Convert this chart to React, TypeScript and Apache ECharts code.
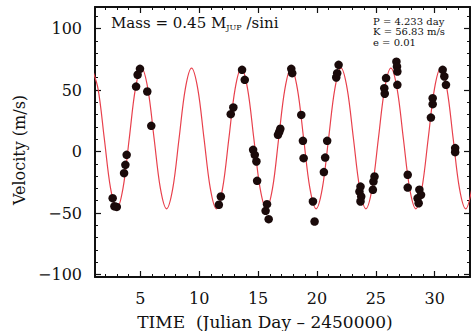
import React, { useEffect, useRef } from 'react';
import * as echarts from 'echarts';

// Axis tick positions
const xMajorTicks = [5, 10, 15, 20, 25, 30];
const xMinorTicks = [2, 3, 4, 6, 7, 8, 9, 11, 12, 13, 14, 16, 17, 18, 19, 21, 22, 23, 24, 26, 27, 28, 29, 31, 32];
const yMajorTicks = [-100, -50, 0, 50, 100];
const yMinorTicks = [-90, -80, -70, -60, -40, -30, -20, -10, 10, 20, 30, 40, 60, 70, 80, 90, 110];

// Observed radial velocities (time in JD - 2450000, velocity in m/s)
const obsTime = [
  2.65, 2.8, 3.0, 3.62, 3.73, 3.84, 4.64, 4.77, 4.97, 5.59, 5.93,
  11.67, 11.84, 12.68, 12.9, 13.64, 13.87,
  14.58, 14.72, 14.86, 14.92, 15.64, 15.76, 15.9, 16.69, 16.8, 16.89,
  17.82, 17.9, 18.67, 18.81, 18.87, 19.66, 19.8,
  20.59, 20.7, 20.87, 21.64, 21.72, 21.84,
  23.61, 23.7, 23.76, 23.7, 24.75, 24.8, 24.89,
  25.72, 25.76, 25.87, 26.75, 26.8, 26.83, 26.83,
  27.71, 27.71, 28.55, 28.64, 28.7, 28.84,
  29.68, 29.83, 29.83, 30.68, 30.82, 30.96, 31.74, 31.74,
];
const obsVel = [
  -37.9, -44.5, -45.0, -17.6, -10.8, -2.7, 52.8, 62.4, 67.2, 48.8, 20.9,
  -43.3, -36.6, 30.4, 35.8, 66.4, 58.3,
  1.4, -2.7, -8.1, -23.8, -48.2, -42.8, -55.0, 13.6, 16.0, 18.5,
  67.2, 63.7, 29.8, 8.7, -5.4, -40.6, -56.9,
  -16.7, -4.9, 8.7, 60.2, 63.7, 70.5,
  -32.5, -28.5, -36.6, -40.6, -31.1, -24.4, -20.3,
  51.5, 47.0, 59.7, 73.0, 69.0, 65.0, 54.2,
  -18.9, -29.3, -38.0, -42.0, -31.0, -35.2,
  27.6, 38.5, 43.4, 66.4, 61.0, 54.2, 2.8, -0.5,
];

// Orbit fit curve at eighth-period steps
const modelTime = [
  0.88, 1.41, 1.94, 2.47, 3.0, 3.53, 4.06, 4.58,
  5.11, 5.64, 6.17, 6.7, 7.23, 7.76, 8.29, 8.82,
  9.35, 9.88, 10.41, 10.94, 11.46, 11.99, 12.52, 13.05,
  13.58, 14.11, 14.64, 15.17, 15.7, 16.23, 16.75, 17.28,
  17.81, 18.34, 18.87, 19.4, 19.93, 20.46, 20.99, 21.52,
  22.05, 22.57, 23.1, 23.63, 24.16, 24.69, 25.22, 25.75,
  26.28, 26.81, 27.34, 27.87, 28.4, 28.92, 29.45, 29.98,
  30.51, 31.04, 31.57, 32.1, 32.63, 33.16, 33.69,
];
const modelVel = [
  67.8, 51.0, 10.6, -29.8, -46.6, -29.8, 10.6, 51.0,
  67.8, 51.0, 10.6, -29.8, -46.6, -29.8, 10.6, 51.0,
  67.8, 51.0, 10.6, -29.8, -46.6, -29.8, 10.6, 51.0,
  67.8, 51.0, 10.6, -29.8, -46.6, -29.8, 10.6, 51.0,
  67.8, 51.0, 10.6, -29.8, -46.6, -29.8, 10.6, 51.0,
  67.8, 51.0, 10.6, -29.8, -46.6, -29.8, 10.6, 51.0,
  67.8, 51.0, 10.6, -29.8, -46.6, -29.8, 10.6, 51.0,
  67.8, 51.0, 10.6, -29.8, -46.6, -29.8, 10.6,
];

const X_MIN = 1.15;
const X_MAX = 33.0;
const Y_MIN = -102;
const Y_MAX = 117.5;

const FONT = 'DejaVu Serif';
const INK = '#111';

function fmt(v: number) {
  return v < 0 ? '\u2212' + Math.abs(v) : String(v);
}

export default function App() {
  const ref = useRef<HTMLDivElement>(null);
  useEffect(() => {
    if (!ref.current) return;
    const chart = echarts.init(ref.current, null, { renderer: 'svg' });
    const axisLine = { show: true, onZero: false, lineStyle: { color: INK, width: 2 } };
    const noLine = { show: false, onZero: false };
    const xBase = { type: 'value', min: X_MIN, max: X_MAX, splitLine: { show: false }, gridIndex: 0 };
    const yBase = { type: 'value', min: Y_MIN, max: Y_MAX, splitLine: { show: false }, gridIndex: 0 };
    const majorTick = (vals: number[]) => ({ show: true, inside: true, length: 6, customValues: vals, lineStyle: { color: INK, width: 1.2 } });
    const minorTick = (vals: number[]) => ({ show: true, inside: true, length: 3, customValues: vals, lineStyle: { color: INK, width: 1 } });
    const option: any = {
      animation: false,
      backgroundColor: '#fff',
      grid: { left: 95, right: 1, top: 7, bottom: 54, containLabel: false },
      xAxis: [
        {
          ...xBase, position: 'bottom', axisLine,
          axisTick: majorTick(xMajorTicks),
          axisLabel: { show: true, customValues: xMajorTicks, margin: 13, fontFamily: FONT, fontSize: 16, color: INK, formatter: fmt },
        },
        { ...xBase, position: 'bottom', axisLine: noLine, axisTick: minorTick(xMinorTicks), axisLabel: { show: false } },
        { ...xBase, position: 'top', axisLine, axisTick: majorTick(xMajorTicks), axisLabel: { show: false } },
        { ...xBase, position: 'top', axisLine: noLine, axisTick: minorTick(xMinorTicks), axisLabel: { show: false } },
      ],
      yAxis: [
        {
          ...yBase, position: 'left', axisLine,
          axisTick: majorTick(yMajorTicks),
          axisLabel: { show: true, customValues: yMajorTicks, margin: 13, fontFamily: FONT, fontSize: 16, color: INK, formatter: fmt },
        },
        { ...yBase, position: 'left', axisLine: noLine, axisTick: minorTick(yMinorTicks), axisLabel: { show: false } },
        { ...yBase, position: 'right', axisLine, axisTick: majorTick(yMajorTicks), axisLabel: { show: false } },
        { ...yBase, position: 'right', axisLine: noLine, axisTick: minorTick(yMinorTicks), axisLabel: { show: false } },
      ],
      series: [
        {
          type: 'line',
          xAxisIndex: 0,
          yAxisIndex: 0,
          data: modelTime.map((t, i) => [t, modelVel[i]]),
          smooth: 0.33,
          showSymbol: false,
          clip: true,
          lineStyle: { color: '#e8404c', width: 1.2 },
          z: 2,
        },
        {
          type: 'scatter',
          xAxisIndex: 0,
          yAxisIndex: 0,
          data: obsTime.map((t, i) => [t, obsVel[i]]),
          symbol: 'circle',
          symbolSize: 8.5,
          itemStyle: { color: '#1a0a0a', opacity: 1 },
          z: 3,
        },
      ],
      graphic: [
        {
          type: 'text',
          left: 111,
          top: 15,
          style: {
            text: '{a|Mass = 0.45 M}{b|JUP}{a| /sini}',
            rich: {
              a: { fontFamily: FONT, fontSize: 15, lineHeight: 18, fill: INK, verticalAlign: 'middle' },
              b: { fontFamily: FONT, fontSize: 8, lineHeight: 8, fill: INK, verticalAlign: 'bottom' },
            },
          },
          z: 10,
        },
        {
          type: 'text',
          left: 373,
          top: 16,
          style: {
            text: 'P = 4.233 day\nK = 56.83 m/s\ne = 0.01',
            fontFamily: FONT,
            fontSize: 10,
            lineHeight: 10.5,
            fill: INK,
          },
          z: 10,
        },
        {
          type: 'text',
          x: 19,
          y: 150,
          rotation: Math.PI / 2,
          style: {
            text: 'Velocity (m/s)',
            fontFamily: FONT,
            fontSize: 16,
            fill: INK,
            align: 'center',
            verticalAlign: 'middle',
          },
        },
        {
          type: 'text',
          x: 265,
          y: 322,
          style: {
            text: 'TIME  (Julian Day \u2013 2450000)',
            fontFamily: FONT,
            fontSize: 17,
            fill: INK,
            align: 'center',
            verticalAlign: 'middle',
          },
        },
      ],
    };
    chart.setOption(option);
    return () => chart.dispose();
  }, []);
  return (
    <div
      ref={ref}
      style={{ position: 'fixed', left: 0, top: 0, width: 471, height: 331, background: '#fff' }}
    />
  );
}
